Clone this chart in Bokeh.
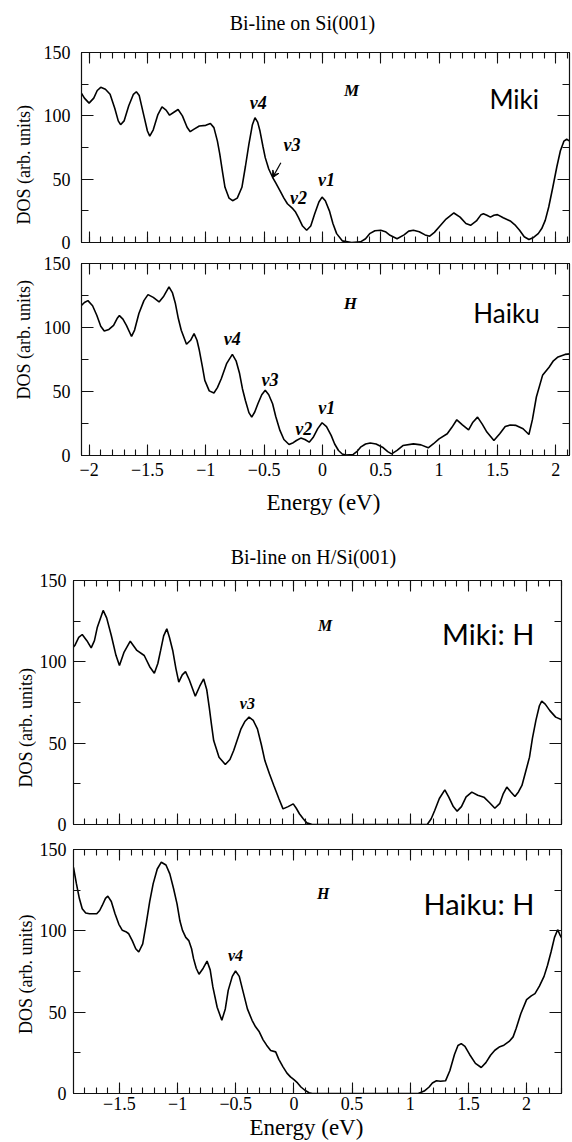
import math
from bokeh.plotting import figure
from bokeh.layouts import column, row
from bokeh.models import Range1d, FixedTicker, LinearAxis, Arrow, VeeHead, Title
from bokeh.core.properties import value
from bokeh.embed import file_html
from bokeh.resources import INLINE

SERIF = "Liberation Serif"
SANS = "Lato"

# ---------------- DOS curves (energy in eV, DOS in arb. units) ----------------
# Bi-line on Si(001), Miki structure
miki_e = [-2.08, -2.04, -2.0, -1.96, -1.93, -1.90, -1.86, -1.82, -1.78, -1.75, -1.73, -1.70, -1.66,
          -1.62, -1.595, -1.57, -1.53, -1.50, -1.48, -1.45, -1.41, -1.375, -1.34, -1.31, -1.27,
          -1.237, -1.20, -1.16, -1.133, -1.10, -1.055, -1.00, -0.96, -0.93, -0.90, -0.88, -0.855,
          -0.835, -0.80, -0.77, -0.73, -0.69, -0.66, -0.63, -0.60, -0.578, -0.555, -0.535, -0.51,
          -0.49, -0.46, -0.427, -0.40, -0.364, -0.33, -0.30, -0.254, -0.23, -0.207, -0.17, -0.135,
          -0.10, -0.066, -0.03, -0.003, 0.025, 0.06, 0.09, 0.122, 0.17, 0.25, 0.327, 0.37, 0.405,
          0.45, 0.5, 0.54, 0.58, 0.64, 0.70, 0.74, 0.78, 0.83, 0.88, 0.92, 0.96, 1.0, 1.06, 1.127,
          1.18, 1.23, 1.27, 1.32, 1.36, 1.38, 1.41, 1.44, 1.47, 1.50, 1.55, 1.61, 1.65, 1.69, 1.73,
          1.77, 1.81, 1.85, 1.88, 1.91, 1.94, 1.975, 2.01, 2.04, 2.07, 2.094, 2.12, 2.147]
miki_dos = [120, 114, 110, 114, 120, 122.5, 121, 117, 106, 96, 93, 96, 108,
            117, 119, 116, 100, 88, 84, 89, 101, 107, 104.5, 100.5, 103,
            105, 100, 91, 87.5, 89.5, 92, 92.5, 94, 90.7, 80, 70, 55,
            43.6, 35, 33, 35, 43.6, 60, 77.6, 93, 98.5, 95, 88, 76,
            67, 58, 51.5, 47, 41, 35, 30.6, 26.7, 24, 20, 13, 9.7,
            13, 22.7, 32, 35.8, 33, 25, 15, 7, 1.3, 0, 0.5, 3, 7,
            9.3, 9.7, 8.5, 5.7, 3, 6, 9, 9.7, 8.5, 6, 5, 8, 12.3, 18.5, 23.3,
            20, 15, 13.6, 17, 22, 22.7, 21.5, 20, 21.5, 22, 19.5, 17, 14, 9.7, 4.5,
            2.4, 4, 7, 11, 17.5, 28, 43.6, 60, 72.4, 80, 81.5, 80, 77.6]

# Bi-line on Si(001), Haiku structure
haiku_e = [-2.08, -2.04, -2.01, -1.97, -1.934, -1.90, -1.87, -1.83, -1.79, -1.76, -1.74, -1.71, -1.68,
           -1.636, -1.61, -1.573, -1.53, -1.495, -1.45, -1.40, -1.36, -1.315, -1.285, -1.26, -1.235,
           -1.21, -1.165, -1.13, -1.10, -1.075, -1.055, -1.03, -1.008, -0.97, -0.93, -0.90, -0.867,
           -0.82, -0.772, -0.74, -0.71, -0.685, -0.66, -0.63, -0.606, -0.58, -0.553, -0.52, -0.49,
           -0.46, -0.427, -0.40, -0.364, -0.33, -0.286, -0.25, -0.223, -0.185, -0.15, -0.113, -0.08,
           -0.04, -0.003, 0.035, 0.075, 0.105, 0.138, 0.17, 0.2, 0.264, 0.3, 0.327, 0.37, 0.41,
           0.46, 0.515, 0.56, 0.593, 0.64, 0.69, 0.78, 0.845, 0.907, 0.95, 1.0, 1.07, 1.11, 1.152,
           1.20, 1.253, 1.29, 1.33, 1.37, 1.41, 1.47, 1.52, 1.567, 1.61, 1.66, 1.72, 1.77, 1.80,
           1.834, 1.887, 1.943, 1.98, 2.02, 2.08, 2.148]
haiku_dos = [116, 119.5, 121, 117, 109.6, 101, 97.3, 98.5, 101.7, 107, 109.3, 106.5, 101.7,
             93, 98, 110.9, 121, 125.7, 123.5, 120, 124.5, 131.7, 127, 118.7, 107,
             97.8, 86.9, 90, 95.2, 90, 82.2, 70, 58.7, 50.5, 48.8, 53, 60,
             72, 79, 74, 64, 52, 43, 33.5, 30, 34, 40.4, 47.5, 50.9,
             47.5, 40.4, 30.5, 19.6, 12.5, 8.6, 10, 11.7, 13.6, 12.5, 10.4, 14,
             21, 25.6, 22.5, 15.7, 9, 3.9, 1.2, 0.3, 0.8, 3.5, 6.5, 9, 9.7,
             9, 6.5, 3, 1.3, 4, 7.8, 9.1, 8.3, 6, 9, 13, 17, 22, 27.9,
             24, 20, 26, 30, 24.5, 18.3, 11.7, 17, 22.7, 23.8, 23.5, 20.9, 16.4, 28,
             45.7, 62.6, 69, 74, 77, 79, 79.6]

# Bi-line on H/Si(001), Miki structure
mikih_e = [-1.91, -1.884, -1.85, -1.82, -1.78, -1.743, -1.715, -1.69, -1.64, -1.61, -1.57, -1.53, -1.50,
           -1.46, -1.407, -1.37, -1.35, -1.287, -1.24, -1.20, -1.17, -1.146, -1.12, -1.093, -1.07,
           -1.042, -1.015, -0.99, -0.96, -0.932, -0.90, -0.848, -0.81, -0.776, -0.75, -0.728, -0.71,
           -0.69, -0.644, -0.59, -0.55, -0.518, -0.455, -0.42, -0.386, -0.35, -0.314, -0.28, -0.25,
           -0.21, -0.173, -0.13, -0.094, -0.05, -0.006, 0.02, 0.047, 0.08, 0.11, 0.157, 1.146,
           1.18, 1.21, 1.25, 1.297, 1.33, 1.37, 1.403, 1.44, 1.48, 1.529, 1.58, 1.633, 1.68, 1.727,
           1.77, 1.80, 1.83, 1.865, 1.90, 1.93, 1.96, 1.99, 2.025, 2.05, 2.08, 2.11, 2.13, 2.16,
           2.2, 2.25, 2.314]
mikih_dos = [108, 110, 115, 116.8, 113, 108.6, 113, 121.3, 131.6, 127, 116.2, 104, 97.7,
             106, 112.7, 109, 107, 103.9, 97, 93, 99, 107, 116, 120.3, 115,
             107, 96, 87.5, 92, 94, 89, 78.9, 85, 89.5, 83, 72, 62,
             51.6, 41.4, 36.9, 40, 45.5, 58.8, 63.5, 66, 64, 58.8, 49, 39.3,
             31, 24, 16, 9.6, 11, 12.7, 10, 6.6, 3.5, 1, 0, 0,
             3.5, 8.6, 16, 21.3, 17, 11, 8.2, 11, 17, 19.9, 18, 16.8, 13.5, 10,
             13, 19, 23, 20, 17.2, 20, 24, 32, 41.4, 53, 64, 73, 75.8, 74,
             70, 66, 64]

# Bi-line on H/Si(001), Haiku structure
haikuh_e = [-1.895, -1.87, -1.845, -1.82, -1.79, -1.758, -1.695, -1.67, -1.648, -1.62, -1.60, -1.57,
            -1.538, -1.505, -1.475, -1.445, -1.42, -1.39, -1.36, -1.334, -1.30, -1.27, -1.24, -1.21,
            -1.175, -1.14, -1.10, -1.067, -1.035, -1.005, -0.98, -0.958, -0.93, -0.904, -0.88, -0.863,
            -0.84, -0.816, -0.78, -0.747, -0.72, -0.697, -0.66, -0.62, -0.59, -0.565, -0.53, -0.502,
            -0.47, -0.44, -0.40, -0.36, -0.33, -0.298, -0.265, -0.235, -0.20, -0.157, -0.13, -0.094,
            -0.06, -0.03, 0.0, 0.031, 0.06, 0.094, 0.13, 0.157, 1.068, 1.12, 1.162, 1.19, 1.225, 1.26,
            1.303, 1.34, 1.38, 1.41, 1.438, 1.47, 1.51, 1.56, 1.61, 1.65, 1.69, 1.727, 1.77, 1.805,
            1.85, 1.884, 1.91, 1.95, 2.0, 2.04, 2.072, 2.11, 2.15, 2.18, 2.21, 2.24, 2.267, 2.29, 2.314]
haikuh_dos = [139, 129, 120, 113.6, 111, 110.5, 110.5, 112.5, 115.6, 120, 121.3, 118,
              110.5, 104, 100.3, 99.5, 98.2, 94, 89, 87, 92, 104.4, 118, 129,
              138, 142.2, 140.5, 135, 126, 116.6, 106, 100.3, 96, 94, 89, 82.9,
              77, 73.3, 77, 81.4, 76, 65.5, 53, 45, 52, 63.4, 72, 75.3,
              72, 63.4, 52, 45, 41, 37.9, 33, 29.7, 26.5, 25.6, 21, 16.4,
              12.5, 10.2, 8.5, 6.5, 4, 2, 0.5, 0, 0, 1.5, 4, 6.5, 7.8, 7.5,
              7.8, 14, 24, 29.5, 30.7, 29, 24, 18.5, 16, 19, 23.5, 26.6, 28.8, 29.7,
              32, 34.8, 40, 49, 57.7, 60, 61.4, 66, 72, 78.8, 87, 96, 100.7, 97, 94]

# ---------------- peak labels and panel tags ----------------
miki_peak_names = ["v4", "v3", "v2", "v1"]
miki_peak_x = [-0.55, -0.26, -0.205, 0.035]
miki_peak_y = [110, 77, 35, 49.5]
miki_arrow = [-0.356, 63, -0.428, 51.1]   # x_start, y_start, x_end, y_end

haiku_peak_names = ["v4", "v3", "v2", "v1"]
haiku_peak_x = [-0.772, -0.449, -0.16, 0.038]
haiku_peak_y = [91.3, 59.2, 20.9, 37.3]

mikih_peak_names = ["v3"]
mikih_peak_x = [-0.40]
mikih_peak_y = [74.2]

haikuh_peak_names = ["v4"]
haikuh_peak_x = [-0.502]
haikuh_peak_y = [84.9]

# (tag letter, x, y), (structure name, right edge x, baseline y)
miki_tags = ("M", 0.25, 120, "Miki", 1.857, 113)
haiku_tags = ("H", 0.24, 118.7, "Haiku", 1.862, 111)
mikih_tags = ("M", 0.267, 122.3, "Miki: H", 2.066, 117.2)
haikuh_tags = ("H", 0.251, 122.8, "Haiku: H", 2.066, 117)

title_top = "Bi-line on Si(001)"
title_bot = "Bi-line on H/Si(001)"
energy_label = "Energy (eV)"
dos_label = "DOS (arb. units)"

x_major_top = [-2, -1.5, -1, -0.5, 0, 0.5, 1, 1.5, 2]
x_minor_top = [round(-2.1 + 0.1 * i, 1) for i in range(44)]
x_major_bot = [-1.5, -1, -0.5, 0, 0.5, 1, 1.5, 2]
x_minor_bot = [round(-1.9 + 0.1 * i, 1) for i in range(43)]
y_major = [0, 50, 100, 150]
y_minor = [25, 75, 125]

TOP_XR = (-2.065, 2.118)
BOT_XR = (-1.895, 2.30)

INK = "#111111"


def style_axis(ax, major, minor, labels, font_size="18px", standoff=7):
    ax.major_tick_in = major
    ax.major_tick_out = 0
    ax.minor_tick_in = minor
    ax.minor_tick_out = 0
    for attr in ("axis_line", "major_tick_line", "minor_tick_line"):
        setattr(ax, attr + "_color", INK)
        setattr(ax, attr + "_width", 1.1)
    ax.axis_label = None
    if labels:
        ax.major_label_text_font = SERIF
        ax.major_label_text_font_size = font_size
        ax.major_label_text_color = "black"
        ax.major_label_standoff = standoff
    else:
        # tick marks only, no numbers
        ax.major_label_text_color = None
        ax.major_label_standoff = 0


def text_strip(width, height, text, x, y, size, angle=0.0, align="center"):
    """A bare canvas (pixel-like data units) holding one heading or axis title."""
    s = figure(width=width, height=height, x_range=Range1d(0, width), y_range=Range1d(0, height),
               output_backend="svg", toolbar_location=None, x_axis_type=None, y_axis_type=None,
               min_border_left=0, min_border_right=0, min_border_top=0, min_border_bottom=0)
    s.grid.visible = False
    s.outline_line_color = None
    s.text(x=[x], y=[y], text=[text], angle=angle, text_font=value(SERIF), text_font_size=size,
           text_align=align, text_baseline="middle" if angle else "alphabetic",
           text_color="black")
    return s


def panel(xr, xmaj, xmin, width, height, border, xlabels, ytick_standoff, xtick_standoff=7):
    bt, bb, bl, br = border
    p = figure(width=width, height=height, x_range=Range1d(*xr), y_range=Range1d(0, 150),
               output_backend="svg", toolbar_location=None,
               min_border_top=bt, min_border_bottom=bb, min_border_left=bl, min_border_right=br)
    p.grid.visible = False
    p.outline_line_color = INK
    p.outline_line_width = 1.1
    xt = FixedTicker(ticks=xmaj, minor_ticks=xmin)
    yt = FixedTicker(ticks=y_major, minor_ticks=y_minor)
    p.xaxis.ticker = xt
    p.yaxis.ticker = yt
    style_axis(p.xaxis[0], 11, 6, xlabels, standoff=xtick_standoff)
    style_axis(p.yaxis[0], 12, 7, True, standoff=ytick_standoff)
    top = LinearAxis(ticker=xt)
    right = LinearAxis(ticker=yt)
    style_axis(top, 11, 6, False)
    style_axis(right, 12, 7, False)
    p.add_layout(top, "above")
    p.add_layout(right, "right")
    return p


def decorate(p, e, dos, names, px, py, tags, tag_size, name_size, peak_size):
    p.line(e, dos, line_color="black", line_width=1.6)
    p.text(x=px, y=py, text=names, text_font=value(SERIF), text_font_style="bold italic",
           text_font_size=peak_size, text_align="center", text_baseline="middle",
           text_color="black")
    letter, lx, ly, name, nx, ny = tags
    p.text(x=[lx], y=[ly], text=[letter], text_font=value(SERIF), text_font_style="bold italic",
           text_font_size=tag_size, text_align="center", text_baseline="middle", text_color="black")
    p.text(x=[nx], y=[ny], text=[name], text_font=value(SANS), text_font_size=name_size,
           text_align="right", text_baseline="alphabetic", text_color="black")


def energy_title(p, offset, standoff):
    p.add_layout(Title(text=energy_label, align="left", offset=offset, standoff=standoff,
                       text_font=SERIF, text_font_size="23px", text_font_style="normal",
                       text_color="black"), "below")


# ---- Bi-line on Si(001) ----
head_a = text_strip(572, 40, title_top, 302, 18, "20px")

pa = panel(TOP_XR, x_major_top, x_minor_top, 532, 212, (12, 10, 40, 3), False, 11)
decorate(pa, miki_e, miki_dos, miki_peak_names, miki_peak_x, miki_peak_y, miki_tags,
         "17px", "26px", "18px")
pa.add_layout(Arrow(end=VeeHead(size=7, fill_color="black", line_color="black", line_width=1),
                    x_start=miki_arrow[0], y_start=miki_arrow[1],
                    x_end=miki_arrow[2], y_end=miki_arrow[3],
                    line_color="black", line_width=1.2))
dos_a = text_strip(40, 212, dos_label, 23, 20, "18px", angle=math.pi / 2, align="left")

pb = panel(TOP_XR, x_major_top, x_minor_top, 532, 278, (11, 75, 40, 3), True, 11)
decorate(pb, haiku_e, haiku_dos, haiku_peak_names, haiku_peak_x, haiku_peak_y, haiku_tags,
         "17px", "26px", "18px")
energy_title(pb, 185, 19)
dos_b = text_strip(40, 278, dos_label, 23, 81, "18px", angle=math.pi / 2, align="left")

# ---- Bi-line on H/Si(001) ----
head_c = text_strip(572, 40, title_bot, 313, 14, "20px")

pc = panel(BOT_XR, x_major_bot, x_minor_bot, 536, 264, (10, 10, 36, 11), False, 7)
decorate(pc, mikih_e, mikih_dos, mikih_peak_names, mikih_peak_x, mikih_peak_y, mikih_tags,
         "16px", "29px", "16px")
dos_c = text_strip(36, 264, dos_label, 25, 40, "18px", angle=math.pi / 2, align="left")

pd = panel(BOT_XR, x_major_bot, x_minor_bot, 536, 308, (15, 49, 36, 11), True, 7, 3)
decorate(pd, haikuh_e, haikuh_dos, haikuh_peak_names, haikuh_peak_x, haikuh_peak_y, haikuh_tags,
         "16px", "29px", "16px")
energy_title(pd, 176, 0)
dos_d = text_strip(36, 308, dos_label, 25, 75, "18px", angle=math.pi / 2, align="left")

layout = column(head_a, row(dos_a, pa, spacing=0), row(dos_b, pb, spacing=0),
                head_c, row(dos_c, pc, spacing=0), row(dos_d, pd, spacing=0), spacing=0)
open("out.html", "w").write(file_html(layout, INLINE))
